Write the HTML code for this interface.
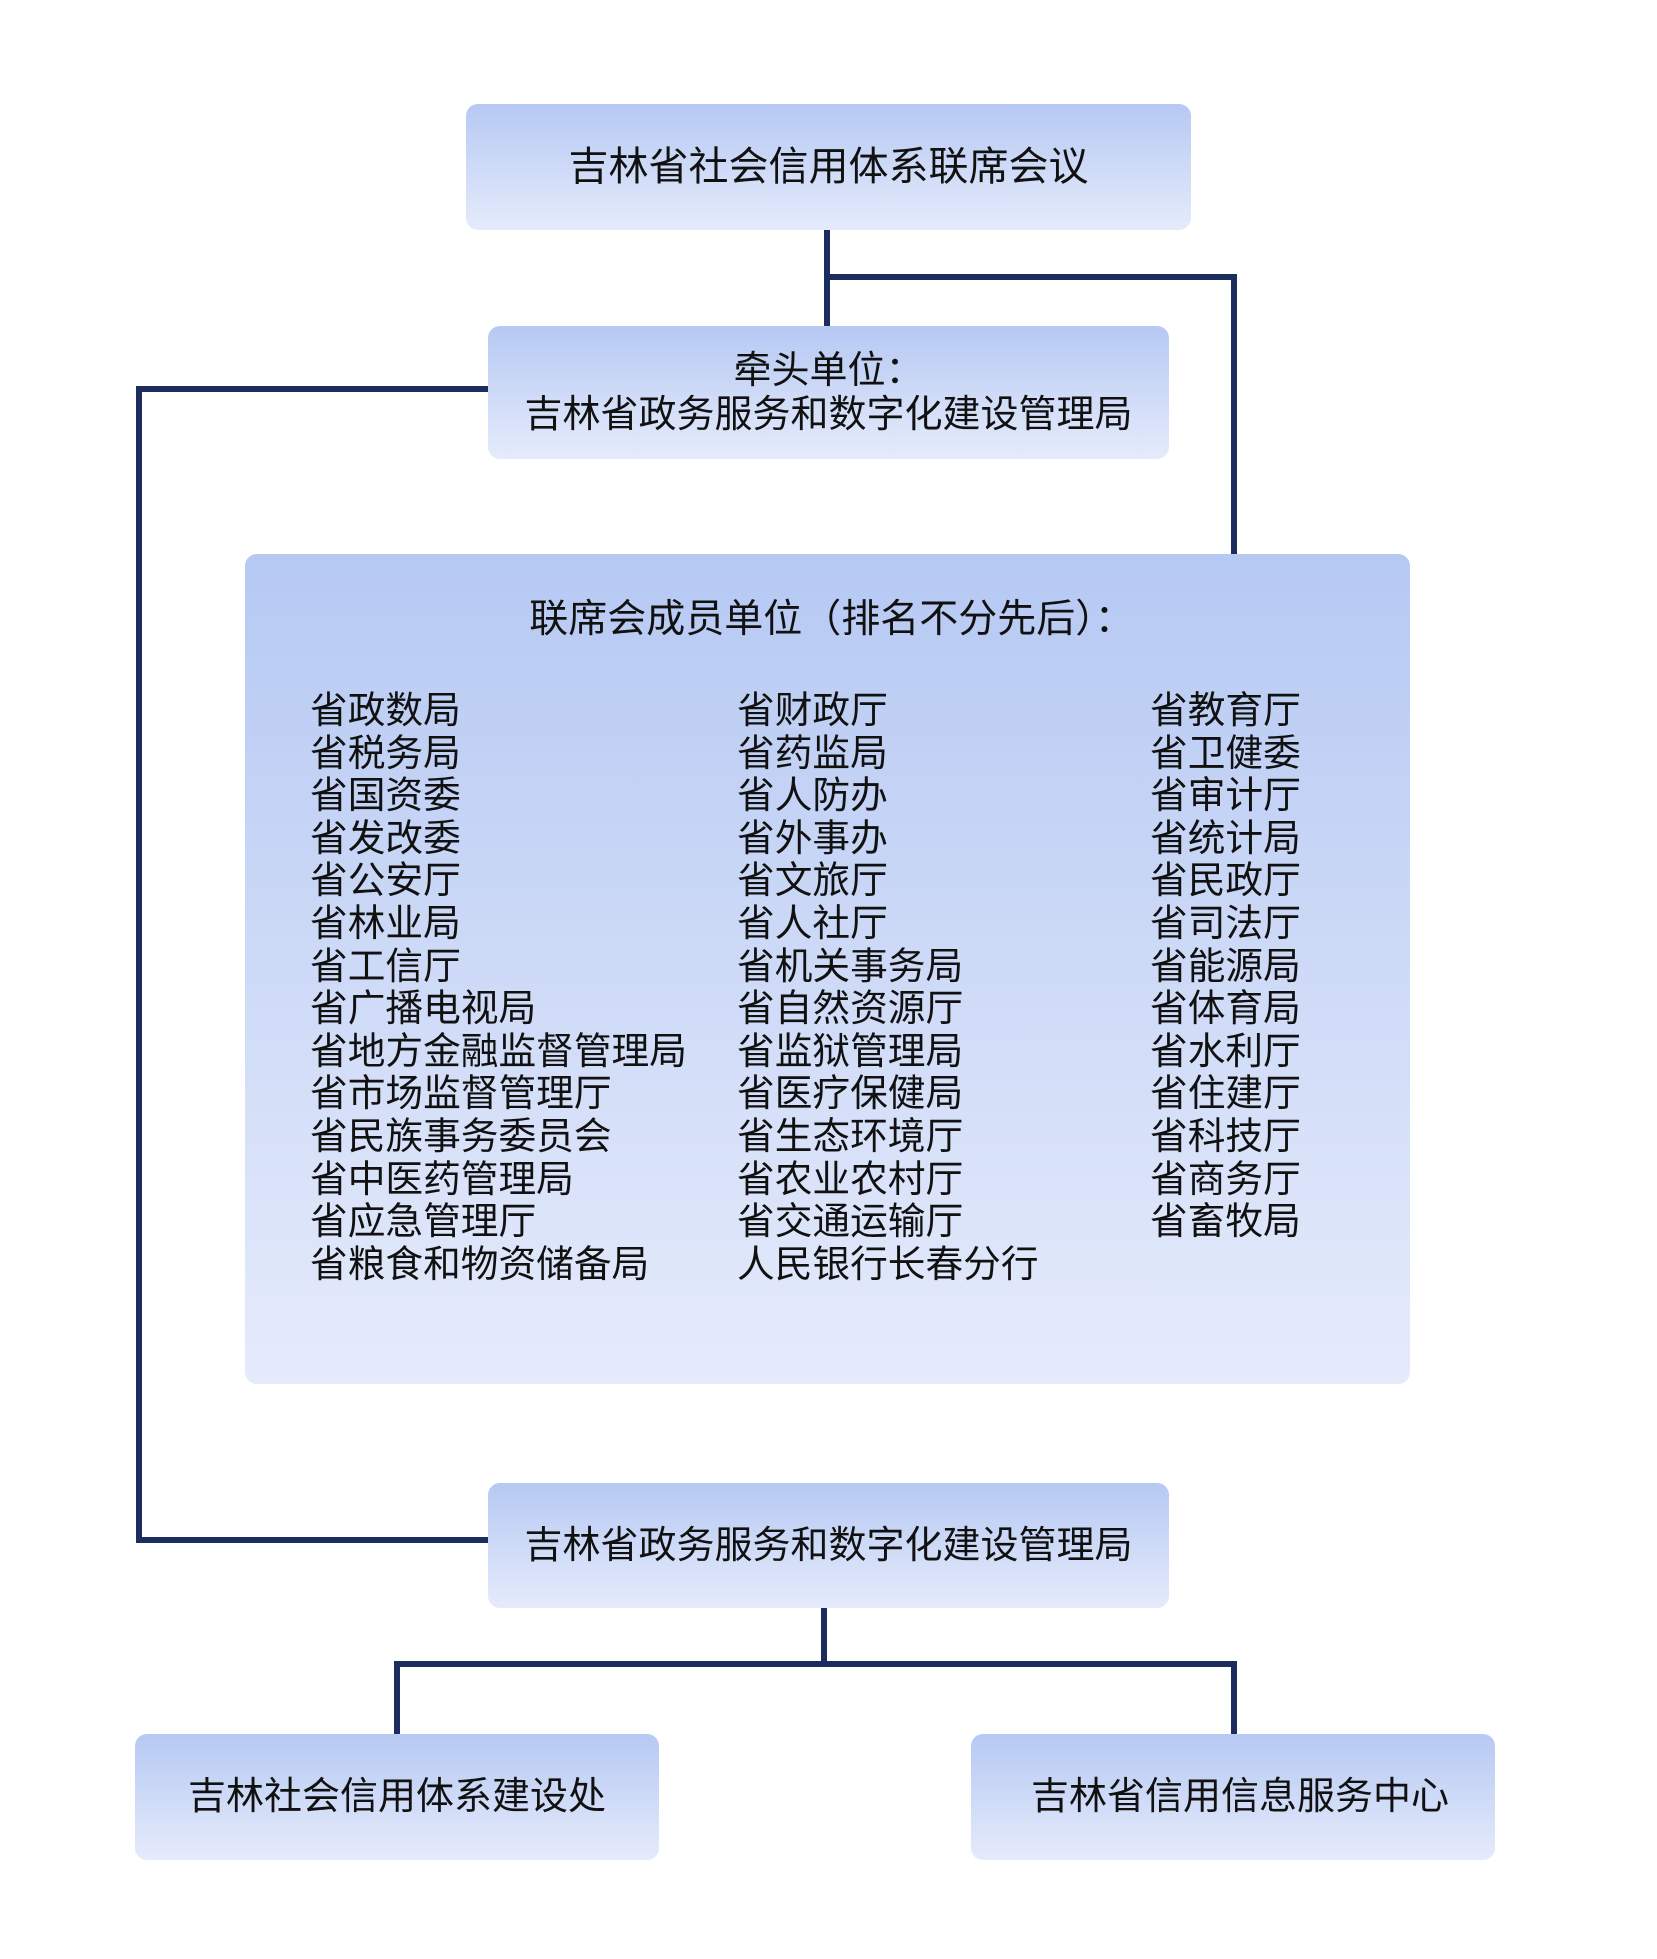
<!DOCTYPE html>
<html><head><meta charset="utf-8"><style>
body{margin:0;width:1657px;height:1959px;background:#fff;position:relative;font-family:"Liberation Sans","Noto Sans CJK SC",sans-serif;color:#111;overflow:hidden}
.b{position:absolute;border-radius:12px;background:linear-gradient(#b6c9f3,#e5ebfb);display:flex;align-items:center;justify-content:center;text-align:center;font-size:39px;line-height:44px}
.l{position:absolute;background:#1b2d5c}
.c{position:absolute;top:689px;font-size:37.7px;line-height:42.6px;white-space:pre}
</style></head><body>
<div class="l" style="left:824px;top:229px;width:6px;height:98px"></div>
<div class="l" style="left:824px;top:274px;width:413px;height:6px"></div>
<div class="l" style="left:1231px;top:274px;width:6px;height:281px"></div>
<div class="l" style="left:136px;top:386px;width:353px;height:6px"></div>
<div class="l" style="left:136px;top:386px;width:6px;height:1157px"></div>
<div class="l" style="left:136px;top:1537px;width:353px;height:6px"></div>
<div class="l" style="left:821px;top:1607px;width:6px;height:60px"></div>
<div class="l" style="left:394px;top:1661px;width:843px;height:6px"></div>
<div class="l" style="left:394px;top:1661px;width:6px;height:74px"></div>
<div class="l" style="left:1231px;top:1661px;width:6px;height:74px"></div>

<div class="b" style="left:466px;top:104px;width:725px;height:126px;font-size:40px">吉林省社会信用体系联席会议</div>
<div class="b" style="left:488px;top:326px;width:681px;height:133px;font-size:38px">牵头单位：<br>吉林省政务服务和数字化建设管理局</div>
<div class="b" style="left:245px;top:554px;width:1165px;height:830px;align-items:flex-start;padding-top:44px;box-sizing:border-box;padding-left:8px">联席会成员单位（排名不分先后）：</div>
<div class="c" style="left:310px">省政数局
省税务局
省国资委
省发改委
省公安厅
省林业局
省工信厅
省广播电视局
省地方金融监督管理局
省市场监督管理厅
省民族事务委员会
省中医药管理局
省应急管理厅
省粮食和物资储备局</div>
<div class="c" style="left:737px">省财政厅
省药监局
省人防办
省外事办
省文旅厅
省人社厅
省机关事务局
省自然资源厅
省监狱管理局
省医疗保健局
省生态环境厅
省农业农村厅
省交通运输厅
人民银行长春分行</div>
<div class="c" style="left:1150px">省教育厅
省卫健委
省审计厅
省统计局
省民政厅
省司法厅
省能源局
省体育局
省水利厅
省住建厅
省科技厅
省商务厅
省畜牧局</div>
<div class="b" style="left:488px;top:1483px;width:681px;height:125px;font-size:38px">吉林省政务服务和数字化建设管理局</div>
<div class="b" style="left:135px;top:1734px;width:524px;height:126px;font-size:38px">吉林社会信用体系建设处</div>
<div class="b" style="left:971px;top:1734px;width:524px;height:126px;font-size:38px;padding-left:14px;box-sizing:border-box">吉林省信用信息服务中心</div>
</body></html>
